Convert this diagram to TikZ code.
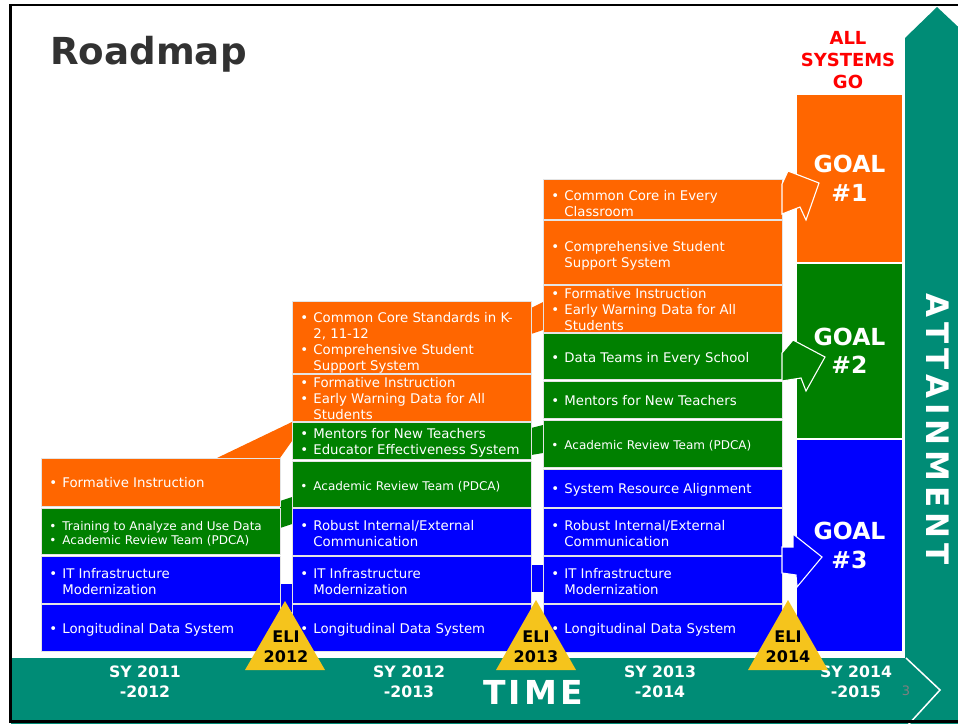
\documentclass[tikz,border=0pt]{standalone}
\usepackage{fontspec}
\setmainfont{DejaVu Sans}
\definecolor{org}{RGB}{255,102,0}
\definecolor{grn}{RGB}{0,128,0}
\definecolor{blu}{RGB}{0,0,255}
\definecolor{tealc}{RGB}{0,140,118}
\definecolor{elic}{RGB}{245,196,28}
\definecolor{edgec}{RGB}{228,228,228}
\definecolor{titlec}{RGB}{50,50,50}
\newcommand{\bul}{\makebox[13pt][l]{•}}
\newcommand{\ind}{\hspace*{13pt}}
\tikzset{
  box/.style={draw=edgec, line width=0.8pt, text=white, align=flush left,
    text width=223pt, inner xsep=8pt, inner ysep=0pt, anchor=north west,
    font=\fontsize{13.3}{16}\selectfont},
  smallfont/.style={font=\fontsize{12}{14}\selectfont},
  goalbox/.style={draw=white, line width=1pt, text=white, align=center,
    minimum width=106pt, inner sep=0pt, anchor=north west,
    font=\bfseries\fontsize{23.5}{28.5}\selectfont},
  goalarrow/.style={draw=white, line width=1.1pt},
  sylabel/.style={text=white, align=center, inner sep=0pt,
    font=\bfseries\fontsize{15.7}{19.5}\selectfont},
  elilabel/.style={text=black, align=center, inner sep=0pt,
    font=\bfseries\fontsize{16}{19.5}\selectfont},
}
% \bx[first-line height]{name}{style}{x}{ytop}{ybottom}{text}
\newcommand{\bx}[7][13]{\node[box,#3,minimum height={(#6-#5)*1pt}] (#2) at (#4,#5) {\rule{0pt}{#1pt}#7};}
\begin{document}
\begin{tikzpicture}[x=1pt,y=-1pt]
\useasboundingbox (0,0) rectangle (958,723);
\clip (0,0) rectangle (958,723);
\fill[white] (0,0) rectangle (958,723);

% title
\node[anchor=base west, inner sep=0pt, text=titlec,
  font=\bfseries\fontsize{37.2}{40}\selectfont] (title) at (50,64) {Roadmap};

% all systems go
\node[align=center, text=red, inner sep=0pt,
  font=\bfseries\fontsize{18}{22}\selectfont] (asg) at (848,60) {ALL\\SYSTEMS\\GO};

% vertical attainment arrow
\fill[tealc] (905,38) -- (937,7) -- (970,38) -- (970,730) -- (905,730) -- cycle;
\node[rotate=-90, text=white, inner sep=0pt,
  font=\bfseries\fontsize{31}{31}\selectfont] (att) at (938,429)
  {A\hspace{5pt}T\hspace{5pt}T\hspace{5pt}A\hspace{5pt}I\hspace{5pt}N\hspace{5pt}M\hspace{5pt}E\hspace{5pt}N\hspace{5pt}T};

% ribbons between columns
\fill[org] (217,458) -- (292,422) -- (292,441) -- (280,458) -- cycle;
\fill[grn] (280,501) -- (292,497) -- (292,524) -- (280,528) -- cycle;
\fill[blu] (280,584) -- (292,584) -- (292,612) -- (280,612) -- cycle;
\fill[org] (531,308) -- (543,302) -- (543,330) -- (531,334) -- cycle;
\fill[grn] (531,428) -- (543,425) -- (543,453) -- (531,455) -- cycle;
\fill[blu] (531,565) -- (543,565) -- (543,592) -- (531,592) -- cycle;

% column 1
\bx[10]{c1a}{fill=org}{41}{458}{506}{\bul Formative Instruction}
\bx{c1b}{fill=grn,smallfont}{41}{508}{554}{\bul Training to Analyze and Use Data\\\bul Academic Review Team (PDCA)}
\bx{c1c}{fill=blu}{41}{556}{603}{\bul IT Infrastructure\\\ind Modernization}
\bx{c1d}{fill=blu}{41}{604}{651}{\bul Longitudinal Data System}

% column 2
\bx[20]{c2a}{fill=org}{292}{301}{373}{\bul Common Core Standards in K-\\\ind 2, 11-12\\\bul Comprehensive Student\\\ind Support System}
\bx[12]{c2b}{fill=org}{292}{374}{421}{\bul Formative Instruction\\\bul Early Warning Data for All\\\ind Students}
\bx[14]{c2c}{fill=grn}{292}{422}{459}{\bul Mentors for New Teachers\\\bul Educator Effectiveness System}
\bx{c2d}{fill=grn,smallfont}{292}{461}{507}{\bul Academic Review Team (PDCA)}
\bx{c2e}{fill=blu}{292}{508}{555}{\bul Robust Internal/External\\\ind Communication}
\bx{c2f}{fill=blu}{292}{556}{603}{\bul IT Infrastructure\\\ind Modernization}
\bx{c2g}{fill=blu}{292}{604}{651}{\bul Longitudinal Data System}

% column 3
\bx[19]{c3a}{fill=org}{543}{179}{219}{\bul Common Core in Every\\\ind Classroom}
\bx[17]{c3b}{fill=org}{543}{220}{284}{\bul Comprehensive Student\\\ind Support System}
\bx[12]{c3c}{fill=org}{543}{285}{332}{\bul Formative Instruction\\\bul Early Warning Data for All\\\ind Students}
\bx[14]{c3d}{fill=grn}{543}{333}{379}{\bul Data Teams in Every School}
\bx[12]{c3e}{fill=grn}{543}{381}{418}{\bul Mentors for New Teachers}
\bx{c3f}{fill=grn,smallfont}{543}{420}{467}{\bul Academic Review Team (PDCA)}
\bx{c3g}{fill=blu}{543}{469}{507}{\bul System Resource Alignment}
\bx{c3h}{fill=blu}{543}{508}{555}{\bul Robust Internal/External\\\ind Communication}
\bx{c3i}{fill=blu}{543}{556}{603}{\bul IT Infrastructure\\\ind Modernization}
\bx{c3j}{fill=blu}{543}{604}{652}{\bul Longitudinal Data System}

% goals
\node[goalbox, fill=org, minimum height=168pt] (g1) at (796,94) {GOAL\\\#1};
\node[goalbox, fill=grn, minimum height=175pt] (g2) at (796,263) {GOAL\\\#2};
\node[goalbox, fill=blu, minimum height=212pt] (g3) at (796,439) {GOAL\\\#3};

% block arrows to goals
\filldraw[goalarrow, fill=org] (782,184) -- (788,171) -- (819,183) -- (806,220) -- (800,207) -- (782,214) -- cycle;
\filldraw[goalarrow, fill=grn] (782,353) -- (793,340) -- (825,357) -- (806,391) -- (801,378) -- (782,381) -- cycle;
\filldraw[goalarrow, fill=blu] (782,547) -- (793,547) -- (793,534) -- (822,557) -- (797,587) -- (796,575) -- (782,573) -- cycle;

% time arrow
\fill[tealc] (11,658) -- (906,658) -- (940,690) -- (907,726) -- (11,726) -- cycle;
\draw[white, line width=1.5pt] (906,658) -- (940,690) -- (907,726);
\node[text=white, inner sep=0pt, font=\bfseries\fontsize{33}{33}\selectfont] (time) at (533,692)
  {T\hspace{3pt}I\hspace{3pt}M\hspace{3pt}E};
\node[sylabel] (sy1) at (145,682) {SY 2011\\-2012};
\node[sylabel] (sy2) at (409,682) {SY 2012\\-2013};
\node[sylabel] (sy3) at (660,682) {SY 2013\\-2014};
\node[sylabel] (sy4) at (856,682) {SY 2014\\-2015};
\node[text=gray, inner sep=0pt, font=\fontsize{13}{13}\selectfont] (pg) at (906,691) {3};

% ELI triangles
\fill[elic] (285,601) -- (325,670) -- (245,670) -- cycle;
\node[elilabel] (e1) at (286,647) {ELI\\2012};
\fill[elic] (536,600) -- (576,670) -- (496,670) -- cycle;
\node[elilabel] (e2) at (536,647) {ELI\\2013};
\fill[elic] (788,600) -- (828,670) -- (748,670) -- cycle;
\node[elilabel] (e3) at (788,647) {ELI\\2014};

% frame
\draw[black, line width=2.5pt] (10.5,5) rectangle (970,721.5);
\end{tikzpicture}
\end{document}
